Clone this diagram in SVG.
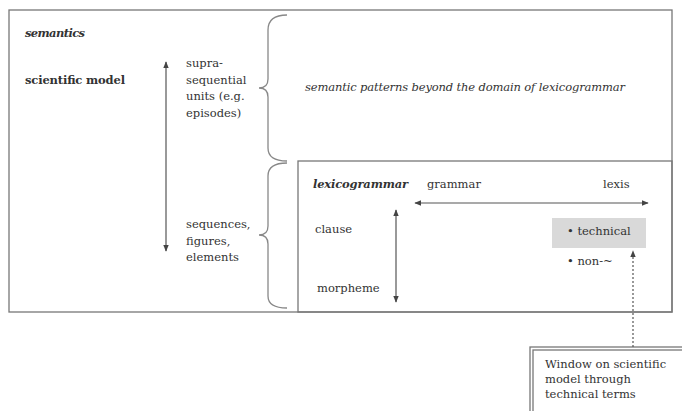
<svg xmlns="http://www.w3.org/2000/svg" width="682" height="411" viewBox="0 0 682 411">
<style>
text{font-family:"DejaVu Serif","Liberation Serif",serif;font-size:11.5px;fill:#333}
.b{font-weight:bold}
.i{font-style:italic}
.box{fill:none;stroke:#777;stroke-width:1.3}
.ln{fill:none;stroke:#555;stroke-width:1.2}
.br{fill:none;stroke:#888;stroke-width:1.3}
</style>
<defs>
<marker id="ah" viewBox="0 0 10 10" refX="9" refY="5" markerWidth="7" markerHeight="7" orient="auto-start-reverse" markerUnits="userSpaceOnUse">
<path d="M0,1 L10,5 L0,9 Z" fill="#444"/>
</marker>
</defs>
<rect width="682" height="411" fill="#fff"/>
<g id="semantics">
<rect class="box" x="9" y="10" width="663" height="302"/>
<text class="b i" x="25" y="37" textLength="60">semantics</text>
<text class="b" x="25" y="84" textLength="100">scientific model</text>
<text x="186" y="67">supra-</text>
<text x="186" y="84">sequential</text>
<text x="186" y="100">units (e.g.</text>
<text x="186" y="117">episodes)</text>
<text x="186" y="228">sequences,</text>
<text x="186" y="245">figures,</text>
<text x="186" y="261">elements</text>
<text class="i" x="305" y="91" textLength="320">semantic patterns beyond the domain of lexicogrammar</text>
</g>
<g id="braces">
<path class="br" d="M287,15 Q268,15 268,30 L268,79 Q268,88 259,88 Q268,88 268,97 L268,148 Q268,161 287,161"/>
<path class="br" d="M287,163 Q268,163 268,176 L268,226 Q268,235 259,235 Q268,235 268,244 L268,296 Q268,308 287,308"/>
</g>
<g id="lexicogrammar">
<rect class="box" x="298" y="161" width="374" height="151" fill="#fff"/>
<text class="b i" x="313" y="188" textLength="95">lexicogrammar</text>
<text x="427" y="188">grammar</text>
<text x="603" y="188">lexis</text>
<text x="315" y="233">clause</text>
<text x="317" y="292">morpheme</text>
</g>
<g id="technical">
<rect x="552" y="218" width="94" height="30" fill="#d9d9d9"/>
<text x="567" y="235">• technical</text>
</g>
<g id="non">
<text x="567" y="265">• non-~</text>
</g>
<g id="window">
<rect class="box" x="530" y="347" width="200" height="100" fill="#fff"/>
<rect class="box" x="533" y="350" width="200" height="100"/>
<text x="545" y="368">Window on scientific</text>
<text x="545" y="383">model through</text>
<text x="545" y="398">technical terms</text>
</g>
<g id="connectors">
<line class="ln" x1="166" y1="62" x2="166" y2="251" marker-start="url(#ah)" marker-end="url(#ah)"/>
<line class="ln" x1="415" y1="203" x2="648" y2="203" marker-start="url(#ah)" marker-end="url(#ah)"/>
<line class="ln" x1="396" y1="210" x2="396" y2="302" marker-start="url(#ah)" marker-end="url(#ah)"/>
<line class="ln" x1="633" y1="347" x2="633" y2="251" stroke-dasharray="2,2" marker-end="url(#ah)"/>
</g>
</svg>
